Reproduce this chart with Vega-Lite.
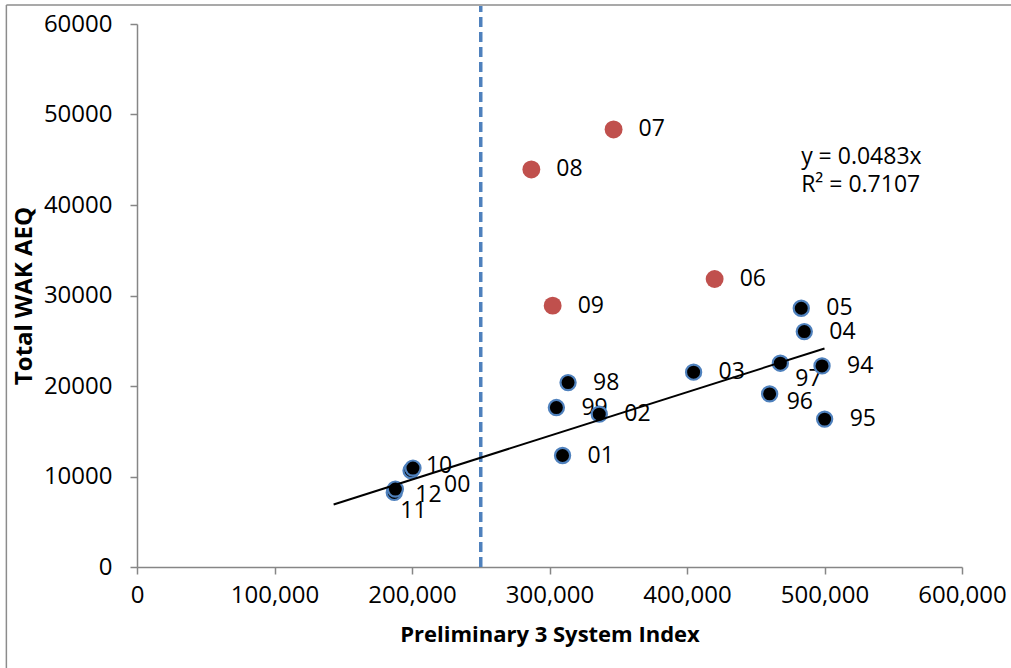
{
  "$schema": "https://vega.github.io/schema/vega-lite/v6.json",
  "width": 825,
  "height": 543,
  "autosize": {"type": "none"},
  "padding": {"left": 137, "top": 24, "right": 49, "bottom": 101},
  "background": "white",
  "config": {
    "view": {"stroke": null},
    "font": "Open Sans",
    "axis": {
      "grid": false,
      "domainColor": "#868686",
      "domainWidth": 1.5,
      "tickColor": "#868686",
      "tickWidth": 1.5,
      "tickSize": 7,
      "labelFont": "Open Sans",
      "labelFontSize": 24,
      "labelColor": "#000000",
      "labelFlush": false,
      "labelOverlap": false,
      "titleFont": "Open Sans",
      "titleFontWeight": "bold",
      "titleColor": "#000000"
    }
  },
  "datasets": {
    "pts": [
      {"label": "94", "x": 498200, "y": 22220, "grp": "main"},
      {"label": "95", "x": 500100, "y": 16340, "grp": "main"},
      {"label": "96", "x": 460100, "y": 19130, "grp": "main"},
      {"label": "97", "x": 467900, "y": 22520, "grp": "main"},
      {"label": "98", "x": 313500, "y": 20380, "grp": "main"},
      {"label": "99", "x": 305000, "y": 17620, "grp": "main"},
      {"label": "00", "x": 199300, "y": 10660, "grp": "main"},
      {"label": "01", "x": 309500, "y": 12320, "grp": "main"},
      {"label": "02", "x": 336200, "y": 16890, "grp": "main"},
      {"label": "03", "x": 404800, "y": 21530, "grp": "main"},
      {"label": "04", "x": 485300, "y": 26010, "grp": "main"},
      {"label": "05", "x": 483100, "y": 28590, "grp": "main"},
      {"label": "10", "x": 200700, "y": 10930, "grp": "main"},
      {"label": "11", "x": 187100, "y": 8240, "grp": "main"},
      {"label": "12", "x": 187900, "y": 8610, "grp": "main"},
      {"label": "06", "x": 420100, "y": 31820, "grp": "excluded"},
      {"label": "07", "x": 346600, "y": 48350, "grp": "excluded"},
      {"label": "08", "x": 286800, "y": 43930, "grp": "excluded"},
      {"label": "09", "x": 302300, "y": 28880, "grp": "excluded"}
    ],
    "trend": [
      {"x": 143000, "y": 6907},
      {"x": 500000, "y": 24150}
    ],
    "cutoff": [
      {"x": 250000, "y": 0, "y2": 62000}
    ],
    "eq": [
      {"x": 483000, "y": 45300, "text": "y = 0.0483x"},
      {"x": 483000, "y": 42200, "text": "R² = 0.7107"}
    ],
    "bordertop": [
      {"x": -95000, "x2": 650000, "y": 62100}
    ],
    "borderleft": [
      {"x": -95000, "y": -13000, "y2": 62100}
    ]
  },
  "encoding": {
    "x": {
      "field": "x",
      "type": "quantitative",
      "scale": {"domain": [0, 600000], "nice": false, "zero": true},
      "axis": {
        "title": "Preliminary 3 System Index",
        "titleFontSize": 22,
        "values": [0, 100000, 200000, 300000, 400000, 500000, 600000],
        "format": ",d",
        "labelPadding": 9,
        "titlePadding": 17
      }
    },
    "y": {
      "field": "y",
      "type": "quantitative",
      "scale": {"domain": [0, 60000], "nice": false, "zero": true},
      "axis": {
        "title": "Total WAK AEQ",
        "titleFontSize": 24,
        "values": [0, 10000, 20000, 30000, 40000, 50000, 60000],
        "format": "d",
        "labelPadding": 18,
        "titlePadding": 7
      }
    }
  },
  "layer": [
    {
      "data": {"name": "bordertop"},
      "mark": {"type": "rule", "color": "#8c8c8c", "strokeWidth": 1.5},
      "encoding": {"x2": {"field": "x2"}}
    },
    {
      "data": {"name": "borderleft"},
      "mark": {"type": "rule", "color": "#8c8c8c", "strokeWidth": 1.5},
      "encoding": {"y2": {"field": "y2"}}
    },
    {
      "data": {"name": "cutoff"},
      "mark": {"type": "rule", "color": "#4f81bd", "strokeWidth": 3.5, "strokeDash": [10, 5]},
      "encoding": {"y2": {"field": "y2"}}
    },
    {
      "data": {"name": "pts"},
      "transform": [{"filter": "indexof(['10','00','12','11','97','96'], datum.label) < 0"}],
      "mark": {"type": "text", "align": "left", "baseline": "middle", "dx": 25, "fontSize": 23, "font": "Open Sans", "color": "#000000"},
      "encoding": {"text": {"field": "label"}}
    },
    {
      "data": {"name": "pts"},
      "transform": [{"filter": "datum.label == '10'"}],
      "mark": {"type": "text", "align": "left", "baseline": "middle", "dx": 13, "dy": -2, "fontSize": 23, "font": "Open Sans", "color": "#000000"},
      "encoding": {"text": {"field": "label"}}
    },
    {
      "data": {"name": "pts"},
      "transform": [{"filter": "datum.label == '00'"}],
      "mark": {"type": "text", "align": "left", "baseline": "middle", "dx": 33, "dy": 14, "fontSize": 23, "font": "Open Sans", "color": "#000000"},
      "encoding": {"text": {"field": "label"}}
    },
    {
      "data": {"name": "pts"},
      "transform": [{"filter": "datum.label == '12'"}],
      "mark": {"type": "text", "align": "left", "baseline": "middle", "dx": 20, "dy": 6, "fontSize": 23, "font": "Open Sans", "color": "#000000"},
      "encoding": {"text": {"field": "label"}}
    },
    {
      "data": {"name": "pts"},
      "transform": [{"filter": "datum.label == '11'"}],
      "mark": {"type": "text", "align": "left", "baseline": "middle", "dx": 6, "dy": 19, "fontSize": 23, "font": "Open Sans", "color": "#000000"},
      "encoding": {"text": {"field": "label"}}
    },
    {
      "data": {"name": "pts"},
      "transform": [{"filter": "datum.label == '97'"}],
      "mark": {"type": "text", "align": "left", "baseline": "middle", "dx": 15, "dy": 16, "fontSize": 23, "font": "Open Sans", "color": "#000000"},
      "encoding": {"text": {"field": "label"}}
    },
    {
      "data": {"name": "pts"},
      "transform": [{"filter": "datum.label == '96'"}],
      "mark": {"type": "text", "align": "left", "baseline": "middle", "dx": 17, "dy": 8, "fontSize": 23, "font": "Open Sans", "color": "#000000"},
      "encoding": {"text": {"field": "label"}}
    },
    {
      "data": {"name": "pts"},
      "transform": [{"filter": "datum.grp == 'main'"}],
      "mark": {"type": "point", "shape": "circle", "filled": true, "fill": "#000000", "stroke": "#4f81bd", "strokeWidth": 2.2, "size": 230, "opacity": 1}
    },
    {
      "data": {"name": "pts"},
      "transform": [{"filter": "datum.grp == 'excluded'"}],
      "mark": {"type": "point", "shape": "circle", "filled": true, "fill": "#c0504d", "strokeWidth": 0, "size": 320, "opacity": 1}
    },
    {
      "data": {"name": "trend"},
      "mark": {"type": "line", "color": "#000000", "strokeWidth": 2}
    },
    {
      "data": {"name": "eq"},
      "mark": {"type": "text", "align": "left", "baseline": "middle", "fontSize": 23, "font": "Open Sans", "color": "#000000"},
      "encoding": {"text": {"field": "text"}}
    }
  ]
}
